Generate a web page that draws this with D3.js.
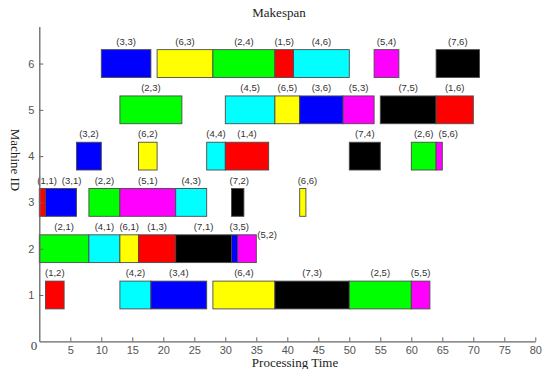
<!DOCTYPE html>
<html>
<head>
<meta charset="utf-8">
<script src="https://cdn.jsdelivr.net/npm/d3@7"></script>
<style>
  body { margin: 0; background: #fff; }
  svg { display: block; }
</style>
</head>
<body>
<figure id="gantt" style="margin:0"></figure>
<script>
// operations, one entry each: machine, job, operation index, start, end
const machines = [6,6,6,6,6,6,6, 5,5,5,5,5,5,5, 4,4,4,4,4,4,4, 3,3,3,3,3,3,3, 2,2,2,2,2,2,2, 1,1,1,1,1,1,1];
const jobs     = [3,6,2,1,4,5,7, 2,4,6,3,5,7,1, 3,6,4,1,7,2,5, 1,3,2,5,4,7,6, 2,4,6,1,7,3,5, 1,4,3,6,7,2,5];
const opsIdx   = [3,3,4,5,6,4,6, 3,5,5,6,3,5,6, 2,2,4,4,4,6,6, 1,1,2,1,3,2,6, 1,1,1,3,1,5,2, 2,2,4,4,3,5,5];
const starts   = [10,19,28,38,41,54,64, 13,30,38,42,49,55,64, 6,16,27,30,50,60,64, 0,1,8,13,22,31,42, 0,8,13,16,22,31,32, 1,13,18,28,38,50,60];
const ends     = [18,28,38,41,50,58,71, 23,38,42,49,54,64,70, 10,19,30,37,55,64,65, 1,6,13,22,27,33,43, 8,13,16,22,31,32,35, 4,18,27,38,50,60,63];

const jobColors = ["#ff0000", "#00ff00", "#0000ff", "#00ffff", "#ff00ff", "#ffff00", "#000000"];
const xTicks = [5,10,15,20,25,30,35,40,45,50,55,60,65,70,75,80];
const yTicks = [1,2,3,4,5,6];

const W = 551, H = 369;
const plotLeft = 39.3, plotRight = 535.3, plotTop = 26.5, plotBottom = 341.3;

const svg = d3.select("figure#gantt")
  .append("svg")
  .attr("width", W)
  .attr("height", H);

const x = d3.scaleLinear().domain([0, 80]).range([plotLeft, plotRight]);
const y = d3.scaleLinear().domain([0, 6.8]).range([plotBottom, plotTop]);
const barH = y(0) - y(0.6);

const data = machines.map((m, i) => ({
  machine: m, job: jobs[i], op: opsIdx[i], start: starts[i], end: ends[i]
}));

// (5,2) has its label beside the bar instead of above it
const beside = d => d.job === 5 && d.op === 2;

// bars
svg.append("g").selectAll("rect")
  .data(data)
  .enter()
  .append("rect")
  .attr("x", d => x(d.start))
  .attr("y", d => y(d.machine) - barH / 2)
  .attr("width", d => x(d.end) - x(d.start))
  .attr("height", barH)
  .attr("fill", d => jobColors[d.job - 1])
  .attr("stroke", "#4a4a4a")
  .attr("stroke-width", 0.9);

// labels: centred over the bar, never starting much left of it,
// and pushed right when they would run into the previous label on that row
const labels = svg.append("g").selectAll("text")
  .data(data)
  .enter()
  .append("text")
  .attr("y", d => beside(d) ? y(d.machine) - barH / 2 + 3 : y(d.machine) - barH / 2 - 5)
  .style("font-family", "Liberation Sans, Arial, sans-serif")
  .style("font-size", "9.5px")
  .attr("fill", "#333")
  .text(d => "(" + d.job + "," + d.op + ")");

const lastRight = {};
labels.each(function(d) {
  const w = this.getComputedTextLength();
  let lx;
  if (beside(d)) {
    lx = x(d.end) + 1;
  } else {
    lx = Math.max(x((d.start + d.end) / 2) - w / 2, x(d.start) - 2);
    if (lastRight[d.machine] !== undefined) lx = Math.max(lx, lastRight[d.machine] + 5);
    lastRight[d.machine] = lx + w;
  }
  d3.select(this).attr("x", lx);
});

// x axis
const xAxis = svg.append("g")
  .attr("transform", "translate(0," + plotBottom + ")")
  .call(d3.axisBottom(x).tickValues(xTicks).tickSize(-4).tickPadding(5).tickSizeOuter(0));
xAxis.select(".domain").attr("stroke", "#666").attr("stroke-width", 1.3);
xAxis.selectAll(".tick line").attr("stroke", "#666");
xAxis.selectAll("text")
  .style("font-family", "Liberation Sans, Arial, sans-serif")
  .style("font-size", "11px")
  .attr("fill", "#555");

// y axis
const yAxis = svg.append("g")
  .attr("transform", "translate(" + plotLeft + ",0)")
  .call(d3.axisLeft(y).tickValues(yTicks).tickFormat(d3.format("d")).tickSize(-4).tickPadding(5).tickSizeOuter(0));
yAxis.select(".domain").attr("stroke", "#666").attr("stroke-width", 1.3);
yAxis.selectAll(".tick line").attr("stroke", "#666");
yAxis.selectAll("text")
  .style("font-family", "Liberation Sans, Arial, sans-serif")
  .style("font-size", "11px")
  .attr("fill", "#555");

// shared origin label
svg.append("text")
  .attr("x", 34)
  .attr("y", 350)
  .attr("text-anchor", "middle")
  .style("font-family", "Liberation Serif, Times New Roman, serif")
  .style("font-size", "13px")
  .attr("fill", "#444")
  .text("0");

// title and axis labels
svg.append("text")
  .attr("x", 279)
  .attr("y", 17)
  .attr("text-anchor", "middle")
  .style("font-family", "Liberation Serif, Times New Roman, serif")
  .style("font-size", "13px")
  .attr("fill", "#222")
  .text("Makespan");

svg.append("text")
  .attr("x", 295)
  .attr("y", 367)
  .attr("text-anchor", "middle")
  .style("font-family", "Liberation Serif, Times New Roman, serif")
  .style("font-size", "13px")
  .attr("fill", "#222")
  .text("Processing Time");

svg.append("text")
  .attr("transform", "translate(11,160) rotate(90)")
  .attr("text-anchor", "middle")
  .style("font-family", "Liberation Serif, Times New Roman, serif")
  .style("font-size", "13px")
  .attr("fill", "#222")
  .text("Machine ID");
</script>
</body>
</html>
